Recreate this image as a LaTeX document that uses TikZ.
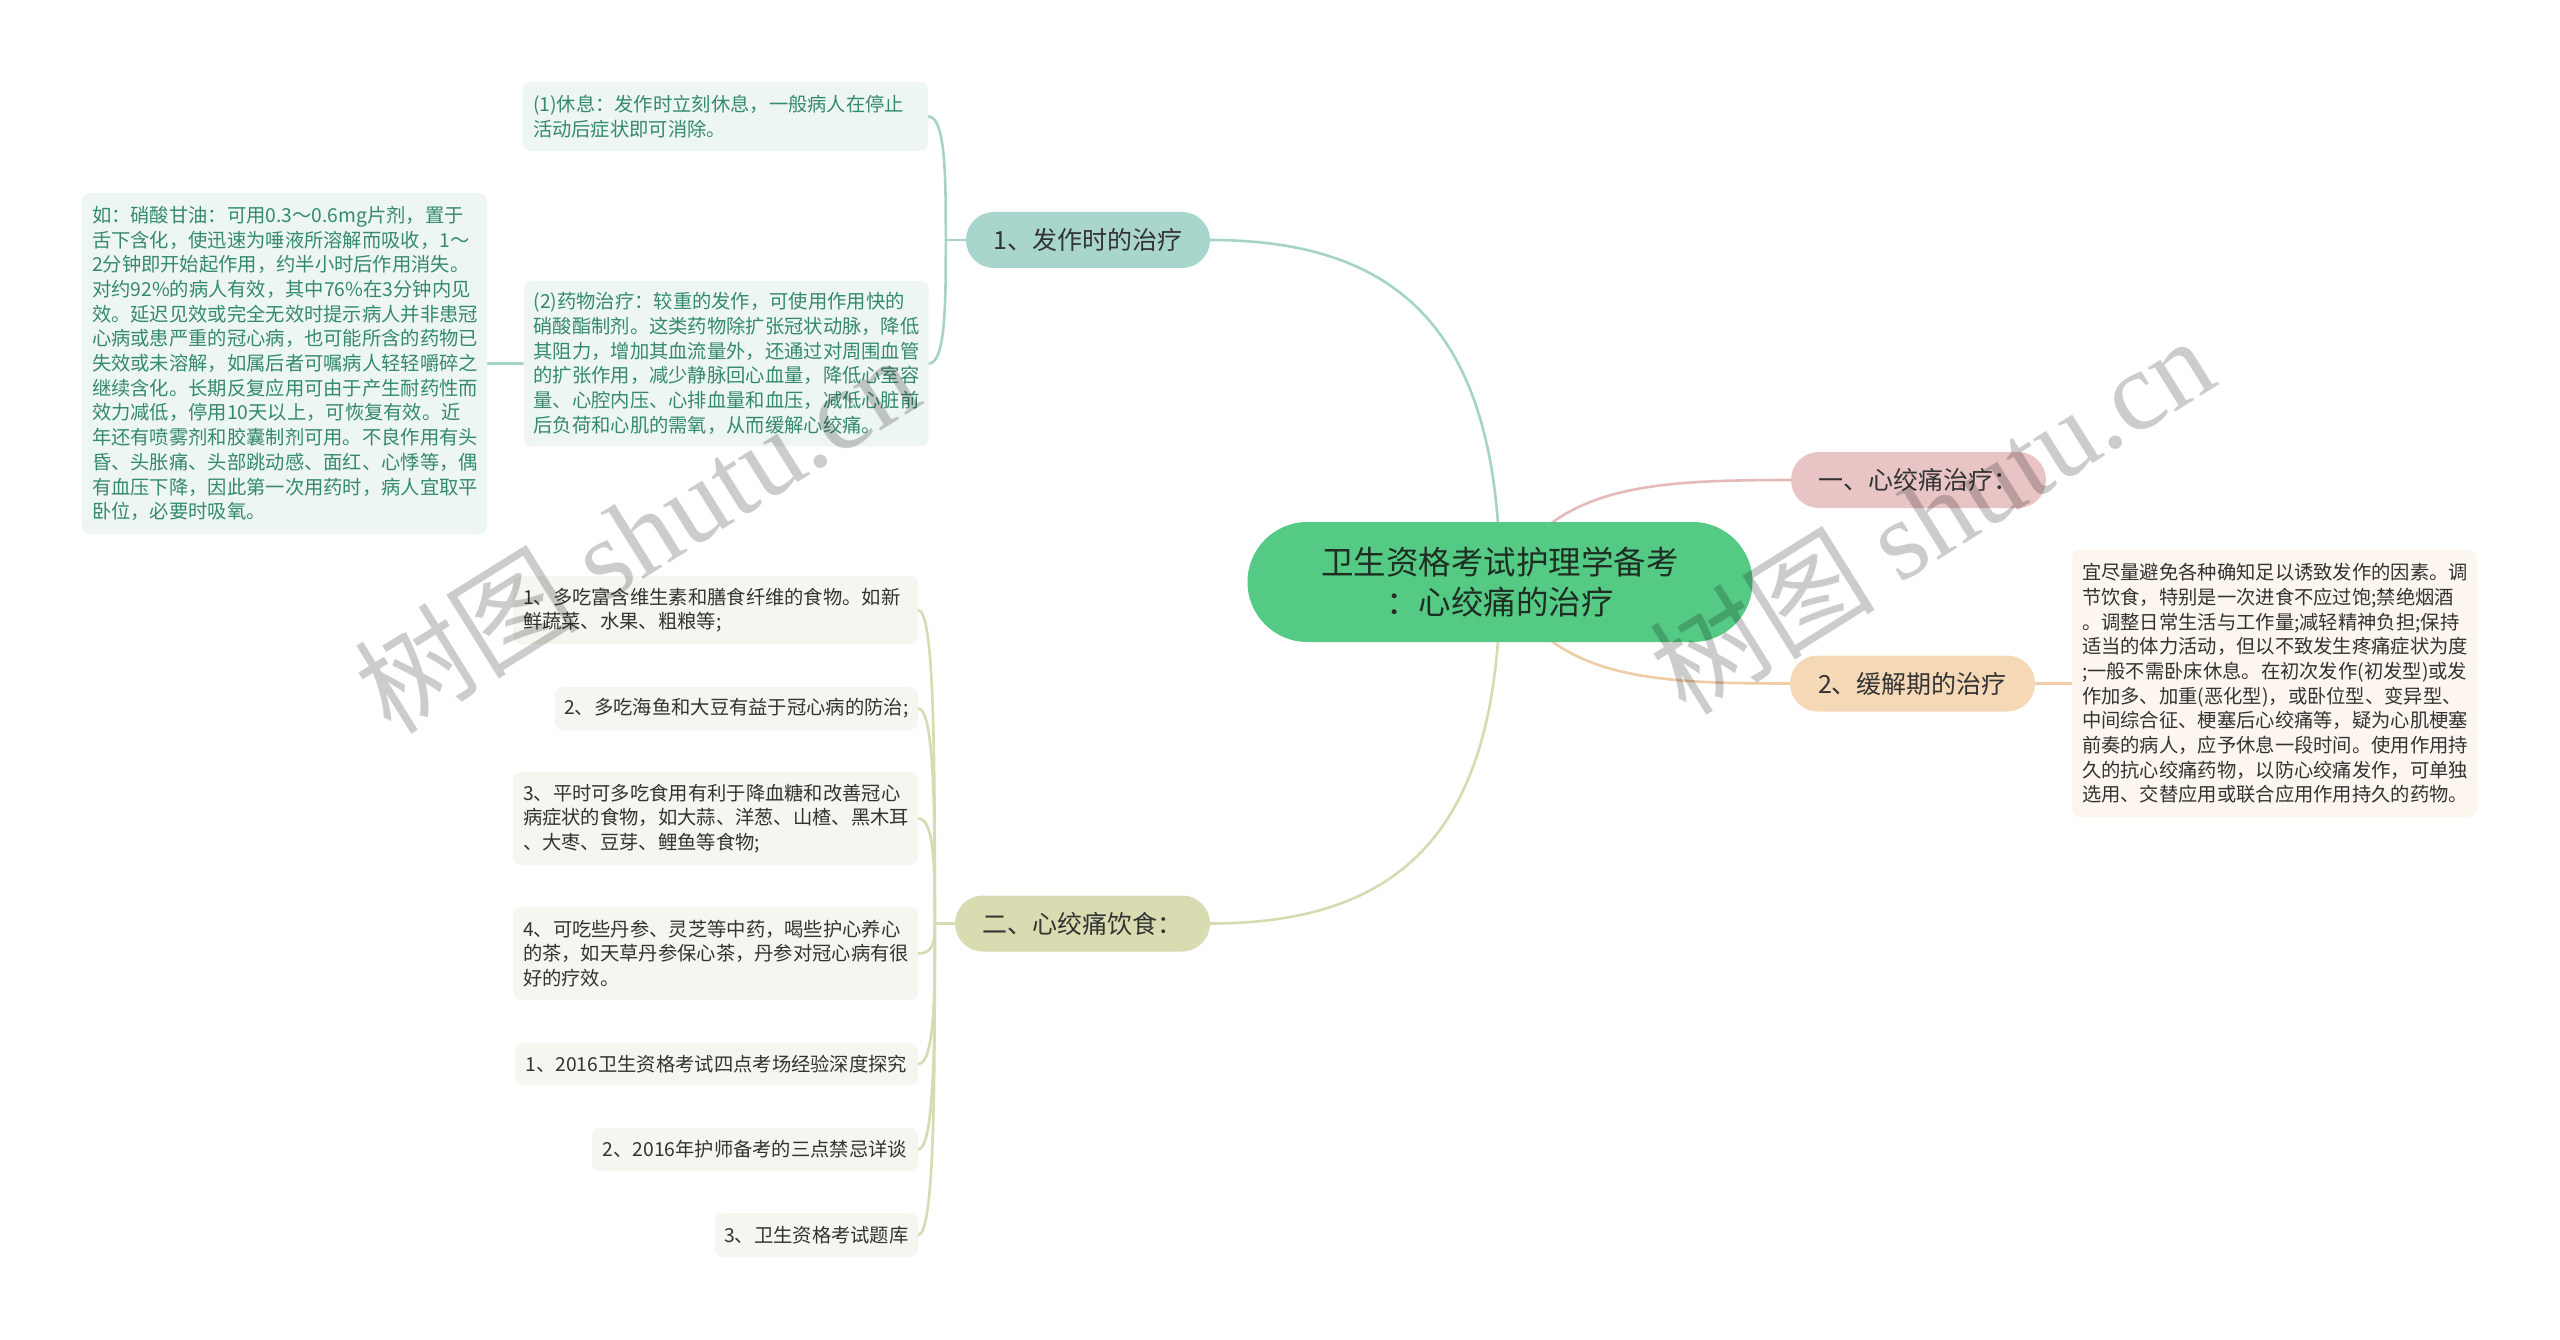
\documentclass[tikz,border=0pt]{standalone}
\usepackage{fontspec}
\setmainfont{Noto Sans CJK SC}
\newfontfamily\wmserif{Liberation Serif}
\usetikzlibrary{calc}
\pgfdeclarelayer{bg}
\pgfsetlayers{bg,main}
\definecolor{ctrfill}{HTML}{54CA84}
\definecolor{ctrtext}{HTML}{1E2E22}
\definecolor{tealfill}{HTML}{A9D6CC}
\definecolor{pinkfill}{HTML}{E8C4C4}
\definecolor{peachfill}{HTML}{F5D9B7}
\definecolor{olivefill}{HTML}{D9DCB0}
\definecolor{tealline}{HTML}{A6D3C9}
\definecolor{pinkline}{HTML}{E6BABA}
\definecolor{peachline}{HTML}{F0CCA6}
\definecolor{oliveline}{HTML}{D6DBB2}
\definecolor{tealleaf}{HTML}{EDF6F3}
\definecolor{tealtext}{HTML}{358A6B}
\definecolor{peachleaf}{HTML}{FDF6EE}
\definecolor{oliveleaf}{HTML}{F5F6EF}
\definecolor{darktext}{HTML}{333333}
\begin{document}
\begin{tikzpicture}[x=1pt,y=-1pt,
  ctrbox/.style={fill=ctrfill, text=ctrtext, rounded corners=59.9pt, minimum width=505pt, minimum height=120pt, align=center, inner sep=0pt, font=\fontsize{32.5}{40}\selectfont},
  cat/.style={rounded corners=27.9pt, minimum height=56pt, inner sep=0pt, text=darktext, font=\fontsize{25}{30}\selectfont},
  leaf/.style={rounded corners=8pt, inner xsep=10pt, inner ysep=0pt, align=left, font=\fontsize{19.3}{24.7}\selectfont},
  sleaf/.style={rounded corners=8pt, inner xsep=8pt, inner ysep=0pt, align=center, font=\fontsize{19.3}{24.7}\selectfont},
  conn/.style={line width=2.6pt, line cap=round},
  wm/.style={text=black, opacity=0.2, font=\fontsize{113}{120}\selectfont, inner sep=0pt}
]
\useasboundingbox (0,0) rectangle (2560,1340);

% central and categories
\node[ctrbox] (ctr) at (1500,582) {卫生资格考试护理学备考\\：心绞痛的治疗};
\node[cat, fill=tealfill, minimum width=244pt] (c1) at (1088,240) {1、发作时的治疗};
\node[cat, fill=pinkfill, minimum width=255pt] (c2) at (1918.5,480) {一、心绞痛治疗：};
\node[cat, fill=peachfill, minimum width=245pt] (c3) at (1912.5,683.5) {2、缓解期的治疗};
\node[cat, fill=olivefill, minimum width=255pt] (c4) at (1082.5,923.5) {二、心绞痛饮食：};

% top-left leaves
\node[leaf, fill=tealleaf, text=tealtext, text width=385pt, minimum height=69pt] (n1a) at (725.5,116.5)
 {(1)休息：发作时立刻休息，一般病人在停止\\活动后症状即可消除。};
\node[leaf, fill=tealleaf, text=tealtext, text width=385pt, minimum height=165pt] (n1b) at (726,363.5)
 {(2)药物治疗：较重的发作，可使用作用快的\\硝酸酯制剂。这类药物除扩张冠状动脉，降低\\其阻力，增加其血流量外，还通过对周围血管\\的扩张作用，减少静脉回心血量，降低心室容\\量、心腔内压、心排血量和血压，减低心脏前\\后负荷和心肌的需氧，从而缓解心绞痛。};
\node[leaf, fill=tealleaf, text=tealtext, text width=385pt, minimum height=341pt] (n1c) at (284.5,363.5)
 {如：硝酸甘油：可用0.3～0.6mg片剂，置于\\舌下含化，使迅速为唾液所溶解而吸收，1～\\2分钟即开始起作用，约半小时后作用消失。\\对约92\%的病人有效，其中76\%在3分钟内见\\效。延迟见效或完全无效时提示病人并非患冠\\心病或患严重的冠心病，也可能所含的药物已\\失效或未溶解，如属后者可嘱病人轻轻嚼碎之\\继续含化。长期反复应用可由于产生耐药性而\\效力减低，停用10天以上，可恢复有效。近\\年还有喷雾剂和胶囊制剂可用。不良作用有头\\昏、头胀痛、头部跳动感、面红、心悸等，偶\\有血压下降，因此第一次用药时，病人宜取平\\卧位，必要时吸氧。};

% right leaf
\node[leaf, fill=peachleaf, text=darktext, text width=385pt, minimum height=267pt] (rb) at (2274.5,683.5)
 {宜尽量避免各种确知足以诱致发作的因素。调\\节饮食，特别是一次进食不应过饱;禁绝烟酒\\。调整日常生活与工作量;减轻精神负担;保持\\适当的体力活动，但以不致发生疼痛症状为度\\;一般不需卧床休息。在初次发作(初发型)或发\\作加多、加重(恶化型)，或卧位型、变异型、\\中间综合征、梗塞后心绞痛等，疑为心肌梗塞\\前奏的病人，应予休息一段时间。使用作用持\\久的抗心绞痛药物，以防心绞痛发作，可单独\\选用、交替应用或联合应用作用持久的药物。};

% diet leaves
\node[leaf, fill=oliveleaf, text=darktext, text width=385pt, minimum height=68pt] (d1) at (715.5,610)
 {1、多吃富含维生素和膳食纤维的食物。如新\\鲜蔬菜、水果、粗粮等;};
\node[sleaf, fill=oliveleaf, text=darktext, minimum width=363pt, minimum height=43pt, anchor=east] (d2) at (918,708.5)
 {2、多吃海鱼和大豆有益于冠心病的防治;};
\node[leaf, fill=oliveleaf, text=darktext, text width=385pt, minimum height=93pt] (d3) at (715.5,818.5)
 {3、平时可多吃食用有利于降血糖和改善冠心\\病症状的食物，如大蒜、洋葱、山楂、黑木耳\\、大枣、豆芽、鲤鱼等食物;};
\node[leaf, fill=oliveleaf, text=darktext, text width=385pt, minimum height=93pt] (d4) at (715.5,953.5)
 {4、可吃些丹参、灵芝等中药，喝些护心养心\\的茶，如天草丹参保心茶，丹参对冠心病有很\\好的疗效。};
\node[sleaf, fill=oliveleaf, text=darktext, minimum width=403pt, minimum height=42pt, anchor=east] (d5) at (918,1064)
 {1、2016卫生资格考试四点考场经验深度探究};
\node[sleaf, fill=oliveleaf, text=darktext, minimum width=326pt, minimum height=43pt, anchor=east] (d6) at (918,1149.5)
 {2、2016年护师备考的三点禁忌详谈};
\node[sleaf, fill=oliveleaf, text=darktext, minimum width=203pt, minimum height=44pt, anchor=east] (d7) at (918,1235)
 {3、卫生资格考试题库};

% connectors (behind the nodes)
\begin{pgfonlayer}{bg}
  \fill[white] (0,0) rectangle (2560,1340);
  \draw[conn, tealline] (c1.east) .. controls +(190,0) and ($(ctr.center)+(0,-250)$) .. (ctr.center);
  \draw[conn, oliveline] (c4.east) .. controls +(190,0) and ($(ctr.center)+(0,250)$) .. (ctr.center);
  \draw[conn, pinkline] (ctr.center) .. controls ($(ctr.center)+(55,-95)$) and ($(c2.west)+(-150,0)$) .. (c2.west);
  \draw[conn, peachline] (ctr.center) .. controls ($(ctr.center)+(55,95)$) and ($(c3.west)+(-150,0)$) .. (c3.west);

  \draw[conn, tealline] (c1.west) -- ++(-20,0) coordinate (t1);
  \draw[conn, tealline] (t1) .. controls ($(t1)!0.5!(t1|-n1a.east)$) and (t1|-n1a.east) .. (n1a.east);
  \draw[conn, tealline] (t1) .. controls ($(t1)!0.5!(t1|-n1b.east)$) and (t1|-n1b.east) .. (n1b.east);
  \draw[conn, tealline] (n1b.west) -- (n1c.east);

  \draw[conn, peachline] (c3.east) -- (rb.west);

  \draw[conn, oliveline] (c4.west) -- ++(-20,0) coordinate (t4);
  \foreach \d in {d1,d2,d3,d4,d5,d6,d7}{
    \draw[conn, oliveline] (t4) .. controls ($(t4)!0.5!(t4|-\d.east)$) and (t4|-\d.east) .. (\d.east);
  }
\end{pgfonlayer}

% watermarks
\node[wm, rotate=32] (wm1) at (636,533) {树图 {\wmserif shutu.cn}};
\node[wm, rotate=32] (wm2) at (1931,514) {树图 {\wmserif shutu.cn}};
\end{tikzpicture}
\end{document}
